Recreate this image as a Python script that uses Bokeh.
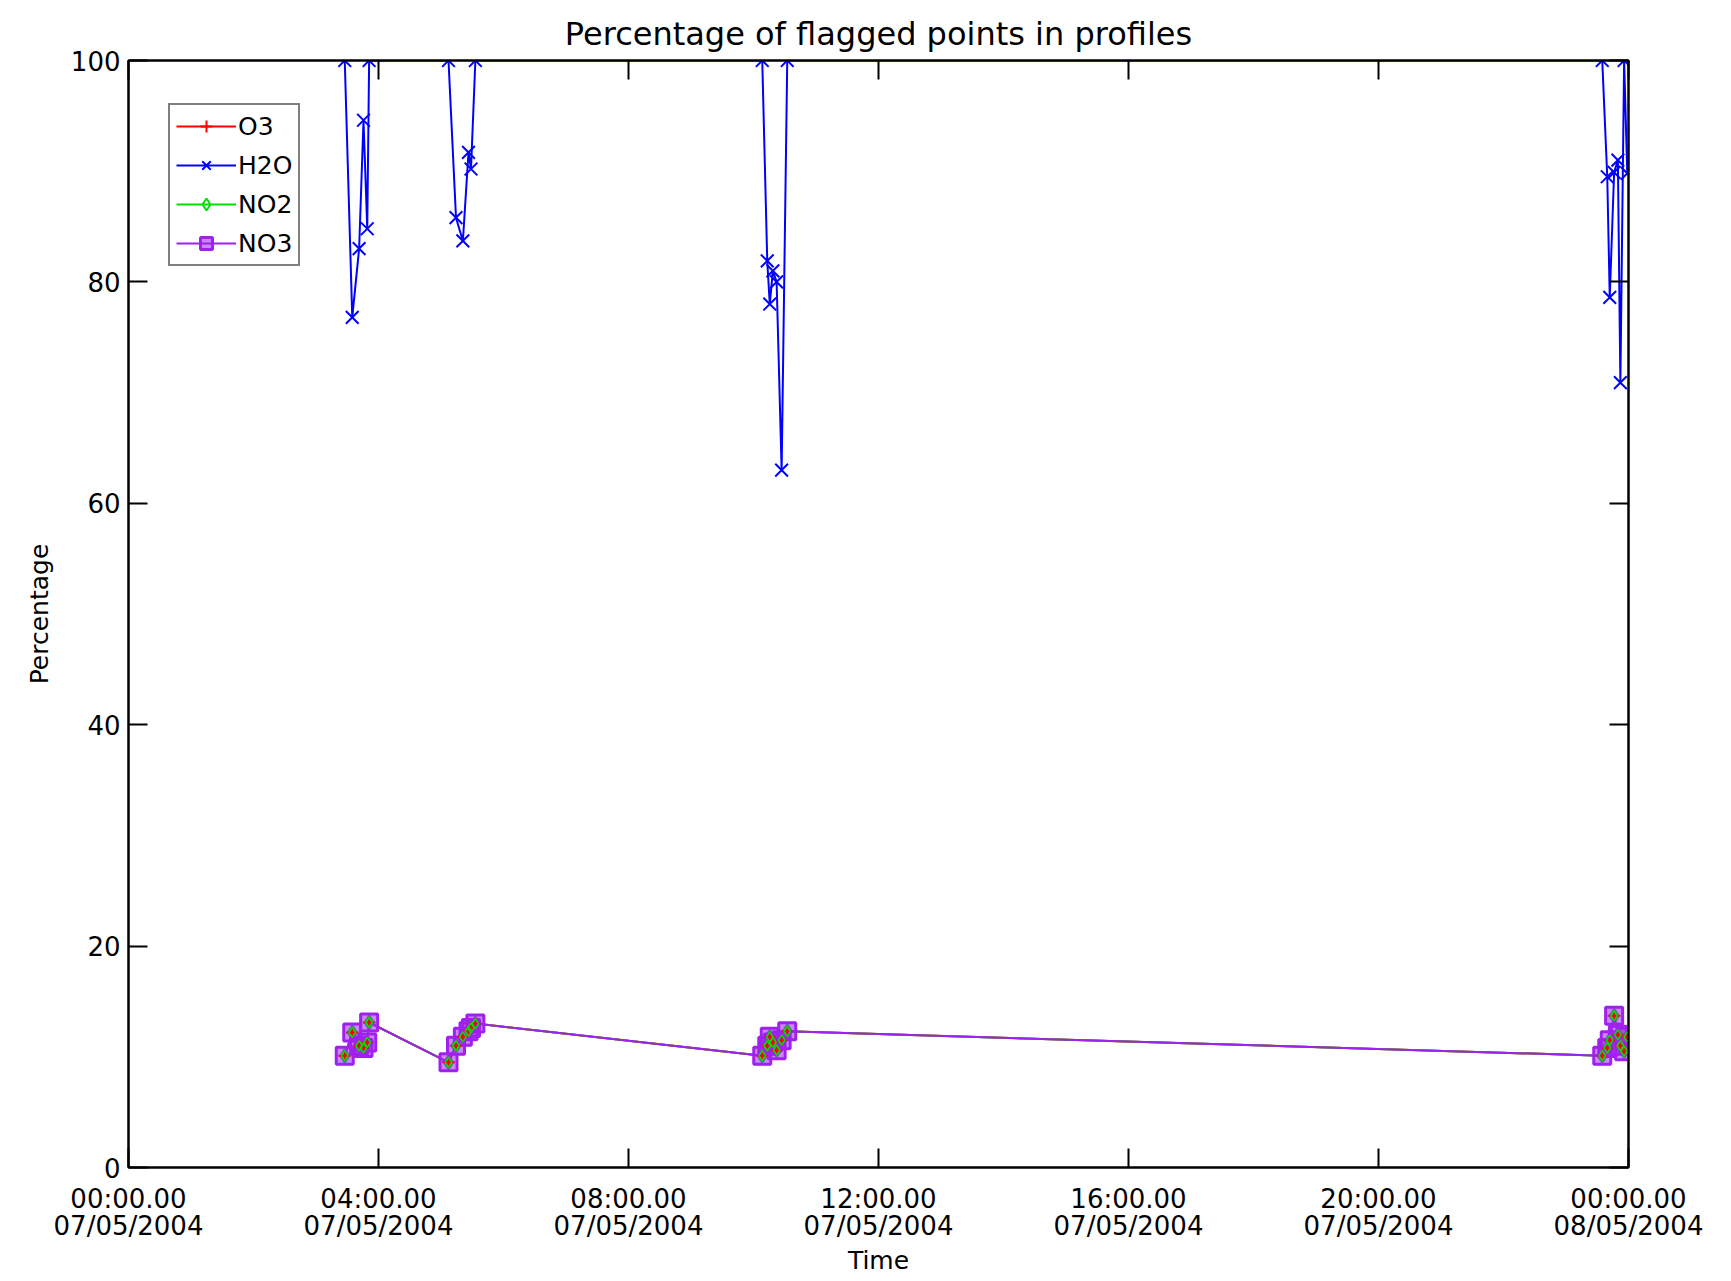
from bokeh.plotting import figure
from bokeh.models import LinearAxis, FixedTicker, Legend, LegendItem, Range1d
from bokeh.embed import file_html
from bokeh.resources import INLINE

# time of each profile, hours since 00:00 07/05/2004
hours = [3.46, 3.58, 3.69, 3.76, 3.82, 3.85,
         5.12, 5.24, 5.35, 5.44, 5.48, 5.55,
         10.14, 10.22, 10.26, 10.31, 10.37, 10.45, 10.54,
         23.58, 23.66, 23.70, 23.77, 23.83, 23.87, 23.93, 23.98]

h2o = [100, 76.8, 83.0, 94.6, 84.8, 100,
       100, 85.8, 83.7, 91.7, 90.2, 100,
       100, 81.9, 78.0, 81.0, 80.0, 63.0, 100,
       100, 89.5, 78.6, 89.9, 91.0, 70.9, 100, 89.8]

o3 = [10.1, 12.2, 11.0, 10.8, 11.3, 13.1,
      9.5, 11.0, 11.8, 12.3, 12.6, 13.0,
      10.1, 11.0, 11.8, 11.3, 10.6, 11.5, 12.3,
      10.1, 10.8, 11.5, 13.7, 12.0, 11.0, 10.5, 11.8]

no2 = [10.1, 12.2, 11.0, 10.8, 11.3, 13.1,
       9.5, 11.0, 11.8, 12.3, 12.6, 13.0,
       10.1, 11.0, 11.8, 11.3, 10.6, 11.5, 12.3,
       10.1, 10.8, 11.5, 13.7, 12.0, 11.0, 10.5, 11.8]

no3 = [10.1, 12.2, 11.0, 10.8, 11.3, 13.1,
       9.5, 11.0, 11.8, 12.3, 12.6, 13.0,
       10.1, 11.0, 11.8, 11.3, 10.6, 11.5, 12.3,
       10.1, 10.8, 11.5, 13.7, 12.0, 11.0, 10.5, 11.8]

x_ticks = [0, 4, 8, 12, 16, 20, 24]
x_tick_labels = ["00:00.00\n07/05/2004", "04:00.00\n07/05/2004", "08:00.00\n07/05/2004",
                 "12:00.00\n07/05/2004", "16:00.00\n07/05/2004", "20:00.00\n07/05/2004",
                 "00:00.00\n08/05/2004"]
y_ticks = [0, 20, 40, 60, 80, 100]

FONT = "DejaVu Sans"

p = figure(frame_width=1500, frame_height=1107, output_backend="svg", toolbar_location=None,
           x_range=Range1d(0, 24), y_range=Range1d(0, 100),
           min_border_left=128, min_border_right=80, min_border_top=60, min_border_bottom=90,
           title="Percentage of flagged points in profiles")
p.title.align = "center"
p.title.text_font = FONT
p.title.text_font_size = "32px"
p.title.text_font_style = "normal"
p.title.text_color = "black"
p.title.standoff = 15

p.grid.visible = False
p.outline_line_color = "black"
p.outline_line_width = 2
p.background_fill_color = "white"
p.border_fill_color = "white"

xa = p.xaxis[0]
xa.ticker = FixedTicker(ticks=x_ticks)
xa.major_label_overrides = {t: l for t, l in zip(x_ticks, x_tick_labels)}
xa.axis_label = "Time"
ya = p.yaxis[0]
ya.ticker = FixedTicker(ticks=y_ticks)
ya.axis_label = "Percentage"

for ax in (xa, ya):
    ax.major_tick_in = 19
    ax.major_tick_out = 0
    ax.minor_tick_in = 0
    ax.minor_tick_out = 0
    ax.major_tick_line_width = 2
    ax.axis_line_width = 2
    ax.major_label_text_font = FONT
    ax.major_label_text_font_size = "26px"
    ax.major_label_text_line_height = 0.92
    ax.major_label_text_color = "black"
    ax.axis_label_text_font = FONT
    ax.axis_label_text_font_size = "25px"
    ax.axis_label_text_font_style = "normal"
    ax.axis_label_text_color = "black"
xa.major_label_standoff = 16
xa.axis_label_standoff = 2
ya.major_label_standoff = 8
ya.axis_label_standoff = 14

top = LinearAxis(ticker=FixedTicker(ticks=x_ticks), major_tick_in=19, major_tick_out=0,
                 minor_tick_in=0, minor_tick_out=0, major_tick_line_width=2,
                 major_label_text_font_size="0px", axis_line_width=2)
right = LinearAxis(ticker=FixedTicker(ticks=y_ticks), major_tick_in=19, major_tick_out=0,
                   minor_tick_in=0, minor_tick_out=0, major_tick_line_width=2,
                   major_label_text_font_size="0px", axis_line_width=2)
p.add_layout(top, "above")
p.add_layout(right, "right")

RED, BLUE, GREEN, PURPLE = "#ff0000", "#0000ff", "#00e000", "#a020f0"

l_o3 = p.line(hours, o3, line_color=RED, line_width=2)
m_o3 = p.scatter(hours, o3, marker="cross", size=13, line_color=RED, line_width=2)
l_h2o = p.line(hours, h2o, line_color=BLUE, line_width=2)
m_h2o = p.scatter(hours, h2o, marker="x", size=18, line_color=BLUE, line_width=2)
l_no2 = p.line(hours, no2, line_color=GREEN, line_width=2)
m_no2 = p.scatter(hours, no2, marker="diamond", size=14, line_color=GREEN, fill_color=None, line_width=2)
l_no3 = p.line(hours, no3, line_color=PURPLE, line_width=2)
m_no3 = p.scatter(hours, no3, marker="square", size=17, line_color=PURPLE, fill_color=PURPLE,
                  fill_alpha=0.55, line_width=3)
# inner symbols drawn over the squares, as in the original
p.scatter(hours, o3, marker="cross", size=10, line_color=RED, line_width=2)
p.scatter(hours, no2, marker="diamond", size=10, line_color=GREEN, fill_color=None, line_width=1.5)

legend = Legend(items=[
    LegendItem(label="O3", renderers=[l_o3, m_o3]),
    LegendItem(label="H2O", renderers=[l_h2o, m_h2o]),
    LegendItem(label="NO2", renderers=[l_no2, m_no2]),
    LegendItem(label="NO3", renderers=[l_no3, m_no3]),
], location=(40, 901))
legend.label_text_font = FONT
legend.label_text_font_size = "25px"
legend.label_text_color = "black"
legend.border_line_color = "black"
legend.border_line_width = 2
legend.background_fill_color = "white"
legend.background_fill_alpha = 1
legend.glyph_width = 60
legend.glyph_height = 30
legend.spacing = 9
legend.padding = 6
legend.margin = 0
legend.label_standoff = 2
p.add_layout(legend, "center")

open("out.html", "w").write(file_html(p, INLINE))
